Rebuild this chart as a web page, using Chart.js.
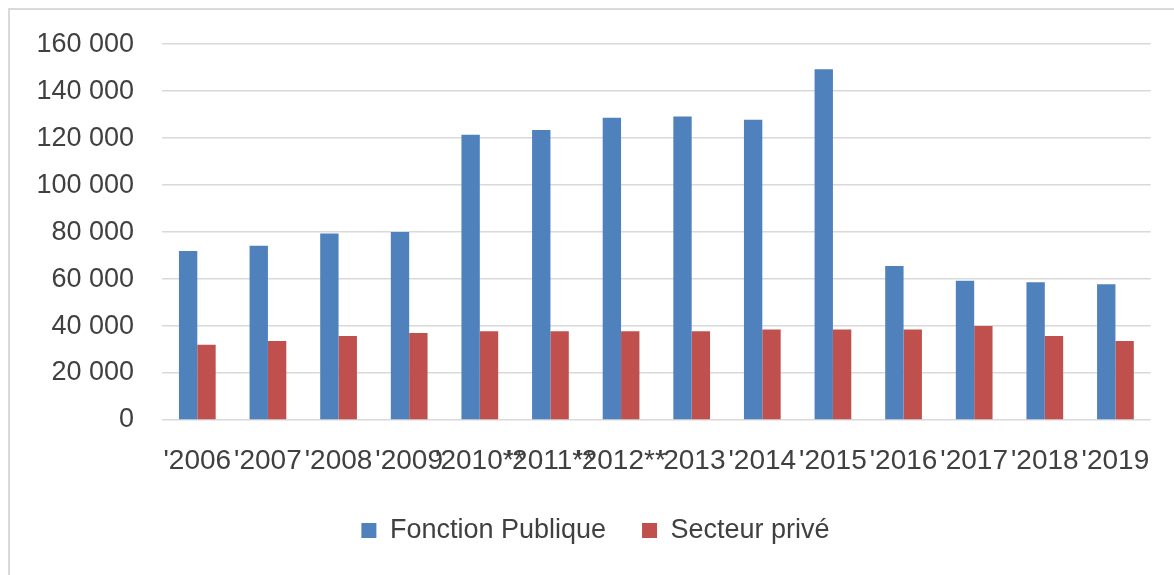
<!DOCTYPE html>
<html>
<head>
<meta charset="utf-8">
<script src="https://cdn.jsdelivr.net/npm/chart.js@4"></script>
<style>
html,body{margin:0;padding:0;background:#fff;}
#wrap{position:absolute;left:0;top:0;width:1174px;height:575px;}
</style>
</head>
<body>
<div id="wrap"><canvas id="c" width="1174" height="575"></canvas></div>
<script>
const categories = ["'2006","'2007","'2008","'2009","'2010**","'2011**","'2012**","'2013","'2014","'2015","'2016","'2017","'2018","'2019"];
const fonctionPublique = [72000,74200,79400,80000,121400,123500,128700,129200,127800,149300,65600,59300,58600,57800];
const secteurPrive = [32000,33600,35800,37000,37800,37800,37800,37800,38500,38500,38500,40000,35800,33600];
const yTicks = [0,20000,40000,60000,80000,100000,120000,140000,160000];

const FONT = "'Liberation Sans', Arial, sans-serif";
const TEXT = '#404040';

const framePlugin = {
  id: 'frame',
  beforeDraw(chart) {
    const ctx = chart.ctx;
    ctx.save();
    ctx.fillStyle = '#fff';
    ctx.fillRect(0, 0, chart.width, chart.height);
    ctx.strokeStyle = '#d9d9d9';
    ctx.lineWidth = 2;
    ctx.beginPath();
    ctx.moveTo(9, chart.height);
    ctx.lineTo(9, 9);
    ctx.lineTo(chart.width, 9);
    ctx.stroke();
    ctx.restore();
  }
};

new Chart(document.getElementById('c'), {
  type: 'bar',
  data: {
    labels: categories,
    datasets: [
      { label: 'Fonction Publique', data: fonctionPublique, backgroundColor: '#4f81bd', borderWidth: 0 },
      { label: 'Secteur privé', data: secteurPrive, backgroundColor: '#c0504d', borderWidth: 0 }
    ]
  },
  options: {
    responsive: false,
    animation: false,
    layout: { padding: { left: 38, right: 21, top: 44, bottom: 21 } },
    datasets: { bar: { categoryPercentage: 0.52, barPercentage: 1.0 } },
    plugins: {
      legend: {
        position: 'bottom',
        labels: {
          font: { family: FONT, size: 27 },
          color: TEXT,
          boxWidth: 15,
          boxHeight: 15,
          padding: 36
        }
      },
      tooltip: { enabled: false }
    },
    scales: {
      x: {
        grid: { display: false, drawTicks: false },
        border: { display: false },
        ticks: {
          font: { family: FONT, size: 28 },
          color: TEXT,
          autoSkip: false,
          maxRotation: 0,
          minRotation: 0,
          padding: 24
        },
        afterFit(scale) { scale.height = 61; }
      },
      y: {
        min: 0,
        max: 160000,
        afterBuildTicks(scale) { scale.ticks = yTicks.map(v => ({ value: v })); },
        grid: { color: '#d9d9d9', lineWidth: 1.5, drawTicks: false },
        border: { display: false },
        ticks: {
          font: { family: FONT, size: 27 },
          color: TEXT,
          padding: 28,
          callback: v => String(v).replace(/\B(?=(\d{3})+(?!\d))/g, ' ')
        },
        afterFit(scale) { scale.width = 124; }
      }
    }
  },
  plugins: [framePlugin]
});
</script>
</body>
</html>
